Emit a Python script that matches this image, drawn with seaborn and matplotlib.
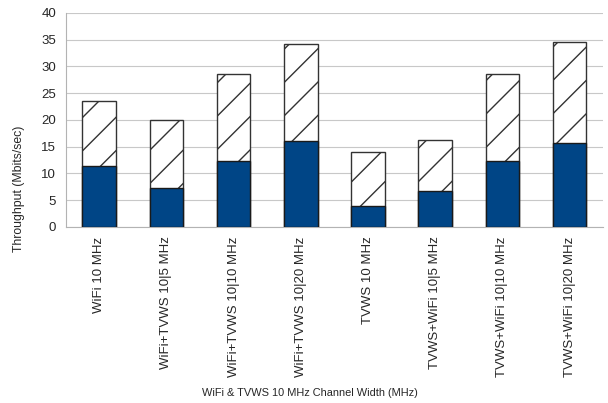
import numpy as np
import pandas as pd
import matplotlib
matplotlib.use('Agg')
import matplotlib.pyplot as plt
import seaborn as sns

# data
categories = ['WiFi 10 MHz', 'WiFi+TVWS 10|5 MHz', 'WiFi+TVWS 10|10 MHz', 'WiFi+TVWS 10|20 MHz',
              'TVWS 10 MHz', 'TVWS+WiFi 10|5 MHz', 'TVWS+WiFi 10|10 MHz', 'TVWS+WiFi 10|20 MHz']
total = [23.5, 20.0, 28.6, 34.2, 14.0, 16.3, 28.6, 34.6]
lower = [11.4, 7.3, 12.3, 16.1, 3.9, 6.7, 12.3, 15.7]

df = pd.DataFrame({'cat': categories, 'total': total, 'lower': lower})

sns.set_style('white')
plt.rcParams['font.family'] = ['Liberation Sans', 'DejaVu Sans']
plt.rcParams['hatch.linewidth'] = 1.0

fig, ax = plt.subplots(figsize=(6.08, 4.03), dpi=100)

# hatched total bar behind, solid blue part in front
sns.barplot(data=df, x='cat', y='total', ax=ax, color='white', edgecolor='#333333',
            linewidth=1.0, hatch='/', width=0.5, zorder=2)
sns.barplot(data=df, x='cat', y='lower', ax=ax, color='#004586', edgecolor='#1a1a1a',
            linewidth=1.0, width=0.5, zorder=3, saturation=1)

ax.set_ylim(0, 40)
ax.set_xlim(-0.5, len(categories) - 0.5)
ax.set_yticks(np.arange(0, 41, 5))
ax.yaxis.grid(True, color='#c8c8c8', linewidth=0.8)
ax.set_axisbelow(True)

ax.set_xticks(range(len(categories)))
ax.set_xticklabels(categories, rotation=90, fontsize=9.5)
ax.tick_params(axis='x', which='major', length=0, pad=7)
ax.set_xticks(np.arange(-0.5, len(categories), 1), minor=True)
ax.tick_params(axis='x', which='minor', length=4, color='#b3b3b3')
ax.tick_params(axis='y', length=4, color='#b3b3b3', labelsize=9.5, pad=3)

for s in ['top', 'right']:
    ax.spines[s].set_visible(False)
for s in ['left', 'bottom']:
    ax.spines[s].set_color('#b3b3b3')

ax.set_xlabel('WiFi & TVWS 10 MHz Channel Width (MHz)', fontsize=7.9)
ax.xaxis.set_label_coords(0.455, -0.755)
ax.set_ylabel('Throughput (Mbits/sec)', fontsize=8.8)
ax.yaxis.set_label_coords(-0.076, 0.178)

plt.subplots_adjust(left=0.108, right=0.992, top=0.968, bottom=0.437)
plt.savefig('out.png', dpi=100)
